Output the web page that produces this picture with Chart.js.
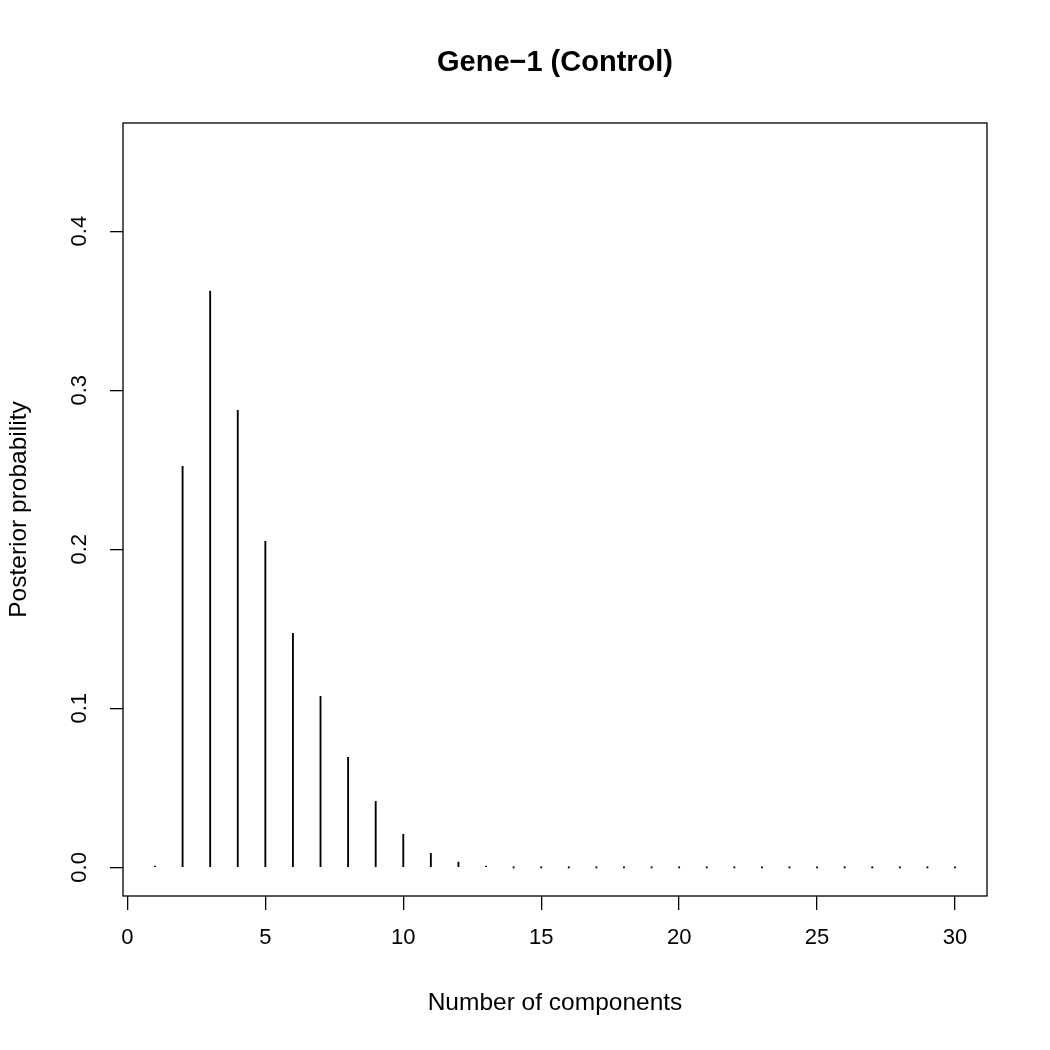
<!DOCTYPE html>
<html>
<head>
<meta charset="utf-8">
<script src="https://cdn.jsdelivr.net/npm/chart.js@4/dist/chart.umd.min.js"></script>
<style>
  html, body { margin: 0; padding: 0; background: #ffffff; }
  #wrap { width: 1050px; height: 1050px; }
</style>
</head>
<body>
<div id="wrap"><canvas id="c" width="1050" height="1050"></canvas></div>
<script>
const chartTitle = "Gene\u22121 (Control)";
const xTitle = "Number of components";
const yTitle = "Posterior probability";
const components = [1,2,3,4,5,6,7,8,9,10,11,12,13,14,15,16,17,18,19,20,21,22,23,24,25,26,27,28,29,30];
const posterior = [0.0002,0.2522,0.3623,0.2874,0.2050,0.1472,0.1075,0.0692,0.0415,0.0208,0.0088,0.0033,0.0008,0,0,0,0,0,0,0,0,0,0,0,0,0,0,0,0,0];
const xTicks = [0,5,10,15,20,25,30];
const yTicks = [0,0.1,0.2,0.3,0.4];

const FONT = "'Liberation Sans', Arial, Helvetica, sans-serif";

const boxPlugin = {
  id: 'box',
  afterDraw(chart) {
    const a = chart.chartArea, ctx = chart.ctx;
    ctx.save();
    ctx.strokeStyle = '#000';
    ctx.lineWidth = 1.3;
    ctx.strokeRect(a.left, a.top, a.right - a.left, a.bottom - a.top);
    ctx.restore();
  }
};

new Chart(document.getElementById('c'), {
  type: 'bar',
  data: {
    datasets: [{
      data: components.map((c, i) => ({x: c, y: posterior[i]})),
      backgroundColor: '#000',
      borderWidth: 0,
      barThickness: 1.2,
      minBarLength: 1.2
    }]
  },
  options: {
    responsive: false,
    animation: false,
    devicePixelRatio: 1,
    layout: { padding: { left: 0, right: 63, top: 0, bottom: 0 } },
    plugins: {
      legend: { display: false },
      tooltip: { enabled: false },
      title: {
        display: true,
        fullSize: false,
        text: chartTitle,
        color: '#000',
        font: { family: FONT, size: 29, weight: 'bold', lineHeight: 1.2 },
        padding: { top: 45.6, bottom: 42.6 }
      }
    },
    scales: {
      x: {
        type: 'linear',
        min: -0.16,
        max: 31.16,
        offset: false,
        afterBuildTicks(s) { s.ticks = xTicks.map(v => ({value: v})); },
        afterFit(s) { s.height = 154; },
        grid: { display: true, offset: false, drawOnChartArea: false, drawTicks: true, tickLength: 14, color: '#000', lineWidth: 1.3 },
        border: { display: false },
        ticks: { color: '#000', font: { family: FONT, size: 22 }, padding: 15, maxRotation: 0, minRotation: 0, autoSkip: false },
        title: { display: true, text: xTitle, color: '#000', font: { family: FONT, size: 24.5, lineHeight: 1.2 }, padding: { top: 0, bottom: 32 } }
      },
      y: {
        type: 'linear',
        min: -0.018,
        max: 0.468,
        afterBuildTicks(s) { s.ticks = yTicks.map(v => ({value: v})); },
        afterFit(s) { s.width = 123; },
        grid: { display: true, drawOnChartArea: false, drawTicks: true, tickLength: 13, color: '#000', lineWidth: 1.3 },
        border: { display: false },
        ticks: { color: '#000', font: { family: FONT, size: 22 }, padding: 14.5, minRotation: 90, maxRotation: 90, crossAlign: 'center', autoSkip: false,
          callback: v => v.toFixed(1) },
        title: { display: true, text: yTitle, color: '#000', font: { family: FONT, size: 24.5, lineHeight: 1.2 }, padding: { top: 5, bottom: 0 } }
      }
    }
  },
  plugins: [boxPlugin]
});
</script>
</body>
</html>
